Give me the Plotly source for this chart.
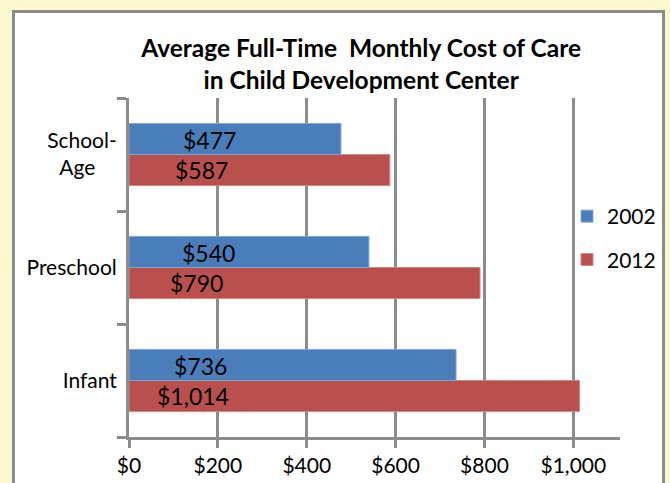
import plotly.graph_objects as go

categories = ["Infant", "Preschool", "School-Age"]
tick_text = ["Infant", "Preschool", "School-<br>Age\u00a0\u00a0\u00a0\u00a0"]
values_2002 = [736, 540, 477]
values_2012 = [1014, 790, 587]
label_2002 = ["$736", "$540", "$477"]
label_2012 = ["$1,014", "$790", "$587"]
x_ticks = [0, 200, 400, 600, 800, 1000]
x_tick_labels = ["$0", "$200", "$400", "$600", "$800", "$1,000"]

# where the value labels sit inside the bars (axis units), as in the original
LABEL_POS_2002 = [160, 180, 182]
LABEL_POS_2012 = [145, 151, 164]

BLUE = "#4A7EBB"
RED = "#BA504D"
GRID = "#8C8C8C"
FONT = "Lato"

fig = go.Figure()
fig.add_trace(go.Bar(
    y=categories, x=values_2012, orientation="h", name="2012",
    marker=dict(color=RED, line=dict(color="#D08886", width=1)),
    legendrank=2, legendgroup="b", hoverinfo="skip"))
fig.add_trace(go.Bar(
    y=categories, x=values_2002, orientation="h", name="2002",
    marker=dict(color=BLUE, line=dict(color="#86A6D2", width=1)),
    legendrank=1, legendgroup="a", hoverinfo="skip"))

annotations = []
for cat, t, xp in zip(categories, label_2002, LABEL_POS_2002):
    annotations.append(dict(x=xp, y=cat, text=t, showarrow=False,
                            xanchor="center", yanchor="middle", yshift=15,
                            font=dict(family=FONT, size=23, color="#000")))
for cat, t, xp in zip(categories, label_2012, LABEL_POS_2012):
    annotations.append(dict(x=xp, y=cat, text=t, showarrow=False,
                            xanchor="center", yanchor="middle", yshift=-15,
                            font=dict(family=FONT, size=23, color="#000")))

# plot area: x 129..620, y 98..437
L, R, T, B = 129, 50, 98, 46
W, H = 670, 483
pw, ph = W - L - R, H - T - B

def px_x(p):
    return (p - L) / pw

def px_y(p):
    return (H - B - p) / ph

shapes = [dict(type="rect", xref="paper", yref="paper",
               x0=px_x(13.5), x1=px_x(663.5), y0=px_y(520), y1=px_y(11.5),
               line=dict(color=GRID, width=3), fillcolor="white", layer="below")]

fig.update_layout(
    width=W, height=H,
    margin=dict(l=L, r=R, t=T, b=B, autoexpand=False),
    paper_bgcolor="#FCF8D0",
    plot_bgcolor="rgba(0,0,0,0)",
    barmode="group", bargap=0.45, bargroupgap=0,
    font=dict(family=FONT, size=21, color="#000"),
    title=dict(text="<b>Average Full-Time  Monthly Cost of Care<br>in Child Development Center</b>",
               x=0.539, xanchor="center", y=1 - 57 / H, yanchor="top",
               font=dict(family=FONT, size=24.5, color="#000")),
    xaxis=dict(range=[0, 1105], tickvals=x_ticks, ticktext=x_tick_labels,
               showgrid=True, gridcolor=GRID, gridwidth=3, zeroline=False,
               showline=True, linecolor=GRID, linewidth=3, automargin=False,
               ticks="outside", ticklen=8, tickwidth=3, tickcolor=GRID,
               tickfont=dict(family=FONT, size=21)),
    yaxis=dict(type="category", categoryorder="array", categoryarray=categories,
               tickvals=categories, ticktext=tick_text, tickson="boundaries",
               showline=True, linecolor=GRID, linewidth=3, automargin=False,
               ticks="outside", ticklen=9, tickwidth=3, tickcolor=GRID,
               ticklabelstandoff=5,
               showgrid=False, tickfont=dict(family=FONT, size=21)),
    legend=dict(x=px_x(567), y=px_y(196), xanchor="left", yanchor="top",
                bgcolor="rgba(0,0,0,0)", font=dict(family=FONT, size=21),
                traceorder="grouped", itemclick=False, tracegroupgap=13),
    annotations=annotations,
    shapes=shapes,
)
fig.write_html("out.html", config={"displayModeBar": False},
               post_script="document.body.style.margin='0';document.body.style.overflow='hidden';")
